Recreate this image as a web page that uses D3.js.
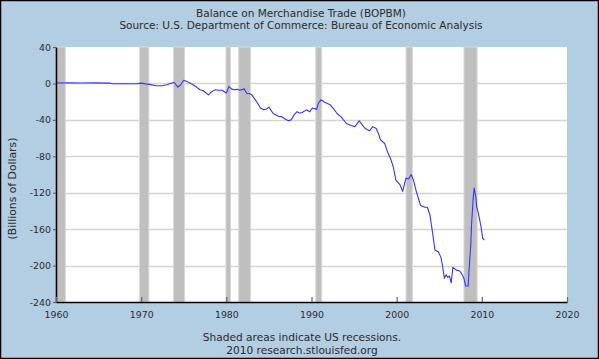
<!DOCTYPE html>
<html>
<head>
<meta charset="utf-8">
<script src="https://cdn.jsdelivr.net/npm/d3@7"></script>
<style>
  html, body { margin: 0; padding: 0; background: #fff; }
  svg { display: block; }
  text { font-family: "DejaVu Sans", Verdana, sans-serif; fill: #2b2b2b; }
</style>
</head>
<body>
<div id="chart"></div>
<script>
const titleLines = ["Balance on Merchandise Trade (BOPBM)",
  "Source: U.S. Department of Commerce: Bureau of Economic Analysis"];
const footerLines = ["Shaded areas indicate US recessions.", "2010 research.stlouisfed.org"];
const yLabel = "(Billions of Dollars)";

const xTicks = [1960, 1970, 1980, 1990, 2000, 2010, 2020];
const yTicks = [40, 0, -40, -80, -120, -160, -200, -240];

const recessionStart = [1960.12, 1969.8, 1973.8, 1979.95, 1981.45, 1990.5, 2001.1, 2007.9];
const recessionEnd   = [1961.1, 1970.9, 1975.1, 1980.5, 1982.85, 1991.2, 2001.85, 2009.45];

const years = [1960.0,1961.5,1963.0,1964.5,1966.0,1966.3,1966.6,1968.0,1969.5,1970.0,1970.5,1971.0,1971.7,1972.5,1973.0,1973.6,1973.9,
  1974.3,1974.6,1975.0,1975.5,1976.1,1976.5,1976.9,1977.3,1977.9,1978.3,1978.7,1979.1,1979.5,1980.0,1980.3,1980.6,1980.9,1981.3,1981.6,
  1982.1,1982.4,1982.7,1983.0,1983.4,1983.7,1984.0,1984.4,1984.7,1985.0,1985.5,1986.1,1986.5,1986.9,1987.3,1987.6,1988.0,1988.3,1988.6,
  1988.9,1989.4,1989.8,1990.1,1990.6,1990.8,1991.1,1991.6,1992.2,1992.6,1993.0,1993.5,1994.1,1994.6,1995.1,1995.6,1996.0,1996.3,1996.8,
  1997.2,1997.6,1997.9,1998.1,1998.6,1999.0,1999.3,1999.6,1999.9,2000.4,2000.7,2001.1,2001.4,2001.7,2002.0,2002.3,2002.8,2003.3,2003.6,
  2003.9,2004.2,2004.5,2004.9,2005.2,2005.4,2005.6,2005.8,2006.0,2006.2,2006.4,2006.6,2007.0,2007.4,2007.6,2007.9,2008.1,2008.4,2008.5,
  2008.7,2008.8,2009.0,2009.1,2009.3,2009.4,2009.6,2009.9,2010.1,2010.3];
const balance = [0.5,0.6,0.5,0.6,0.3,0.5,-0.3,-0.3,-0.3,0.3,-0.5,-1,-2.5,-2.5,-1.5,0.5,1,
  -4,-2,3.5,1.5,-1.5,-4,-7,-8,-12.5,-9,-7,-7.5,-7.5,-10.5,-3.5,-6,-7,-6.5,-7.5,
  -6,-11,-11,-12.6,-18,-22,-27,-29,-28,-26,-33,-36,-36.5,-39,-41,-40,-34,-31,-32.5,
  -32,-29,-31,-27,-28.5,-22,-18,-21,-23.5,-28,-33,-37,-44,-46,-47.5,-41,-46,-49.5,-52,
  -47.5,-49.5,-56,-62,-66,-77,-83,-91.5,-106,-111.5,-118.5,-104,-105,-100,-107,-118.5,-134,-136,-136,
  -144,-163,-183,-185,-191,-201,-214,-210,-213,-211.5,-219,-202,-205,-206,-208.5,-214,-222.5,-222.5,-205,
  -177.5,-153.5,-124.5,-115,-124.5,-135.5,-143,-157,-170,-172];

const W = 599, H = 359;
const plot = { left: 56, right: 567, top: 47, bottom: 302 };

const svg = d3.select("#chart").append("svg").attr("width", W).attr("height", H);

// background and border
svg.append("rect").attr("x", 0.5).attr("y", 0.5).attr("width", W - 1).attr("height", H - 1)
  .attr("fill", "#b3cde3").attr("stroke", "#000").attr("stroke-width", 1.5);

const x = d3.scaleLinear().domain([1960, 2020]).range([plot.left, plot.right]);
const y = d3.scaleLinear().domain([-240, 40]).range([plot.bottom, plot.top]);

// plot area
svg.append("rect").attr("x", plot.left).attr("y", plot.top)
  .attr("width", plot.right - plot.left).attr("height", plot.bottom - plot.top).attr("fill", "#fff");

// grid
svg.append("g").selectAll("line").data(yTicks.filter(v => v > -240 && v < 40)).join("line")
  .attr("x1", plot.left).attr("x2", plot.right)
  .attr("y1", d => Math.round(y(d)) + 0.5).attr("y2", d => Math.round(y(d)) + 0.5)
  .attr("stroke", "#d4d4d4").attr("stroke-width", 1.3);

// recessions
svg.append("g").selectAll("rect").data(recessionStart.map((s, i) => [s, recessionEnd[i]])).join("rect")
  .attr("x", d => x(d[0])).attr("width", d => x(d[1]) - x(d[0]))
  .attr("y", plot.top).attr("height", plot.bottom - plot.top)
  .attr("fill", "#bfbfbf").attr("stroke", "#dadada").attr("stroke-width", 1);

// line
const pts = years.map((yr, i) => [yr, balance[i]]);
svg.append("path").datum(pts)
  .attr("d", d3.line().x(d => x(d[0])).y(d => y(d[1])))
  .attr("fill", "none").attr("stroke", "#3535ff").attr("stroke-width", 1.1)
  .attr("stroke-linejoin", "round");

// axes
const yAxis = svg.append("g").attr("transform", `translate(${plot.left},0)`)
  .call(d3.axisLeft(y).tickValues(yTicks).tickSizeInner(3).tickSizeOuter(0).tickPadding(2).tickFormat(d3.format("d")));
const xAxis = svg.append("g").attr("transform", `translate(0,${plot.bottom})`)
  .call(d3.axisBottom(x).tickValues(xTicks).tickSizeInner(-5).tickSizeOuter(0).tickPadding(9).tickFormat(d3.format("d")));
[yAxis, xAxis].forEach(a => {
  a.select(".domain").attr("stroke", "#000").attr("stroke-width", 1.6);
  a.selectAll(".tick line").attr("stroke", "#666").attr("stroke-width", 1.2);
  a.selectAll(".tick text").attr("font-size", 9.4).attr("fill", "#2b2b2b")
    .style("font-family", '"DejaVu Sans", Verdana, sans-serif');
});
yAxis.selectAll(".tick text").text(d => d < 0 ? "-" + Math.abs(d) : d);

// titles
svg.append("text").attr("x", 301).attr("y", 16.5).attr("text-anchor", "middle")
  .attr("font-size", 10.5).text(titleLines[0]);
svg.append("text").attr("x", 301).attr("y", 29).attr("text-anchor", "middle")
  .attr("font-size", 10.5).text(titleLines[1]);

// y label
svg.append("text").attr("transform", "translate(15.5,188.5) rotate(-90)")
  .attr("text-anchor", "middle").attr("font-size", 10.8).text(yLabel);

// footer
svg.append("text").attr("x", 302).attr("y", 341).attr("text-anchor", "middle")
  .attr("font-size", 10.6).text(footerLines[0]);
svg.append("text").attr("x", 302).attr("y", 354).attr("text-anchor", "middle")
  .attr("font-size", 10.6).text(footerLines[1]);
</script>
</body>
</html>
